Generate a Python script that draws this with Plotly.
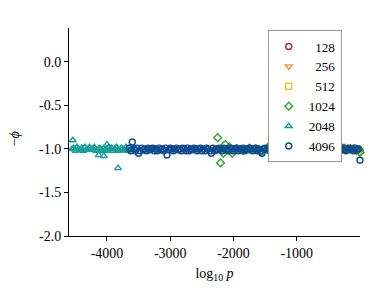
import plotly.graph_objects as go

# ---- data ----
sizes = ["128", "256", "512", "1024", "2048", "4096"]

x128 = [-390, -375, -360, -345, -330, -300, -250, -200, -150, -100, -50, 0]
y128 = [-0.95, -0.93, -1.05, -0.94, -0.96, -1.00, -0.99, -1.01, -1.00, -0.99, -1.01, -1.02]

x256 = [-940, -900, -860, -820, -780, -730, -680, -600, -500, -400, -300, -200, -100, 0]
y256 = [-0.93, -0.99, -1.05, -1.00, -1.10, -1.08, -1.00, -0.99, -1.01, -1.00, -0.99, -1.01, -1.00, -1.04]

x512 = [-1480, -1420, -1380, -1340, -1300, -1260, -1220, -1150, -1050, -950,
        -850, -750, -650, -550, -450, -350, -250, -150, -50, 0]
y512 = [-1.00, -0.97, -0.95, -0.96, -0.95, -0.96, -1.03, -1.00, -0.99, -1.01,
        -1.00, -0.98, -1.00, -1.01, -0.99, -1.00, -1.01, -0.99, -1.00, -1.02]

x1024 = [-2250, -2205, -2160, -2130, -2100, -2060, -2020, -1950, -1850, -1750,
         -1650, -1550, -1450, -1350, -1250, -1150, -1050, -950, -850, -750,
         -650, -550, -450, -350, -250, -150, -50, 0]
y1024 = [-0.87, -1.16, -1.05, -0.95, -1.00, -0.98, -1.05, -1.00, -1.02, -0.99,
         -1.00, -1.03, -0.98, -1.00, -1.01, -0.99, -1.00, -1.02, -0.99, -1.00,
         -1.01, -0.98, -1.00, -1.01, -0.99, -1.00, -1.02, -1.04]

x2048 = [-4550, -4525, -4500, -4475, -4450, -4425, -4400, -4375, -4350, -4325,
         -4300, -4275, -4250, -4225, -4200, -4175, -4150, -4125, -4100, -4075,
         -4050, -4025, -4000, -3975, -3950, -3925, -3900, -3875, -3850, -3825,
         -3800, -3775, -3750, -3725, -3700, -3675, -3650, -3625, -3600,
         -4540, -4130, -4050, -4000, -3825,
         -3000, -2000, -1000, 0]
y2048 = [-1.00, -0.99, -1.02, -0.98, -1.00, -1.01, -0.99, -1.02, -0.98, -1.01,
         -1.00, -0.98, -1.01, -1.00, -0.98, -1.02, -1.01, -0.99, -1.00, -1.02,
         -0.99, -1.01, -1.02, -0.98, -1.00, -0.99, -1.02, -1.00, -0.98, -1.01,
         -1.02, -0.99, -1.00, -1.01, -0.98, -1.02, -0.99, -1.01, -1.00,
         -0.90, -1.07, -1.08, -0.95, -1.22,
         -1.00, -1.00, -1.00, -1.00]

x4096 = [-3650, -3625, -3600, -3575, -3550, -3525, -3500, -3475, -3450, -3425,
         -3400, -3375, -3350, -3325, -3300, -3275, -3250, -3225, -3200, -3175,
         -3150, -3125, -3100, -3075, -3050, -3025, -3000, -2975, -2950, -2925,
         -2900, -2875, -2850, -2825, -2800, -2775, -2750, -2725, -2700, -2675,
         -2650, -2625, -2600, -2575, -2550, -2525, -2500, -2475, -2450, -2425,
         -2400, -2375, -2350, -2325, -2300, -2275, -2250, -2225, -2200, -2175,
         -2150, -2125, -2100, -2075, -2050, -2025, -2000, -1975, -1950, -1925,
         -1900, -1875, -1850, -1825, -1800, -1775, -1750, -1725, -1700, -1675,
         -1650, -1625, -1600, -1575, -1550, -1525, -1500, -1475, -1450, -1425,
         -1400, -1375, -1350, -1325, -1300, -1275, -1250, -1225, -1200, -1175,
         -1150, -1125, -1100, -1075, -1050, -1025, -1000, -975, -950, -925,
         -900, -875, -850, -825, -800, -775, -750, -725, -700, -675,
         -650, -625, -600, -575, -550, -525, -500, -475, -450, -425,
         -400, -375, -350, -325, -300, -275, -250, -225, -200, -175,
         -150, -125, -100, -75, -50, -25, 0]
y4096 = [-0.99, -1.02, -0.92, -1.00, -1.02, -0.99, -1.05, -1.02, -0.99, -1.01,
         -1.00, -1.02, -0.99, -1.01, -1.00, -0.99, -1.02, -1.00, -1.02, -0.99,
         -1.01, -1.00, -1.02, -0.99, -1.07, -1.01, -0.99, -1.00, -1.02, -1.00,
         -0.99, -1.01, -1.00, -1.02, -0.99, -1.00, -1.02, -0.99, -1.02, -1.00,
         -1.01, -0.99, -1.00, -1.02, -1.00, -0.99, -1.02, -1.00, -1.02, -0.99,
         -1.00, -1.02, -1.05, -0.99, -1.02, -1.00, -1.01, -0.99, -1.00, -1.02,
         -0.99, -1.01, -1.00, -1.02, -0.99, -1.00, -1.02, -1.00, -0.99, -1.02,
         -1.00, -1.01, -0.99, -1.02, -1.00, -1.01, -0.99, -1.00, -1.02, -1.00,
         -0.99, -1.02, -1.00, -1.02, -1.05, -1.00, -0.99, -1.01, -1.00, -1.02,
         -0.99, -1.00, -1.01, -1.02, -1.00, -0.99, -1.02, -1.00, -1.02, -0.99,
         -1.00, -1.01, -0.99, -1.02, -1.00, -1.01, -0.99, -1.00, -1.02, -1.01,
         -0.99, -1.00, -1.02, -1.01, -0.99, -1.00, -1.02, -1.02, -1.00, -0.99,
         -1.01, -1.00, -1.02, -0.99, -1.00, -1.02, -0.99, -1.02, -1.00, -1.01,
         -0.99, -1.00, -1.02, -1.01, -1.00, -0.99, -1.01, -1.02, -1.00, -0.99,
         -1.01, -1.00, -1.02, -0.99, -1.01, -1.00, -1.13]

xtick_vals = [-4000, -3000, -2000, -1000]
xtick_text = ["-4000", "-3000", "-2000", "-1000"]
ytick_vals = [0.0, -0.5, -1.0, -1.5, -2.0]
ytick_text = ["0.0", "-0.5", "-1.0", "-1.5", "-2.0"]
x_title = "log<sub>10</sub> <i>p</i>"
y_title = "\u2212<i>\u03d5</i>"

# ---- styling ----
xs = [x128, x256, x512, x1024, x2048, x4096]
ys = [y128, y256, y512, y1024, y2048, y4096]
colors = ["#b2202a", "#f58c2e", "#d6d21e", "#2fa82a", "#17a09a", "#0d4b90"]
symbols = ["circle-open", "triangle-down-open", "square-open",
           "diamond-open", "triangle-up-open", "circle-open"]
FONT = "Liberation Serif"

fig = go.Figure()
for name, xv, yv, c, s in zip(sizes, xs, ys, colors, symbols):
    label = ("\u2007" * (4 - len(name))) + name
    fig.add_trace(go.Scatter(
        x=xv, y=yv, mode="markers", name=label, cliponaxis=False,
        marker=dict(symbol=s, size=6, color=c, line=dict(width=1.4, color=c)),
    ))

# y-axis title placed as a rotated annotation so it can sit near the page edge
fig.add_annotation(text=y_title, xref="paper", yref="paper",
                   x=-0.186, y=0.469, xanchor="center", yanchor="middle",
                   textangle=-90, showarrow=False,
                   font=dict(family=FONT, size=14, color="black"))

# page body has an 8px margin, so the figure is offset by 8px right/down
fig.update_layout(
    width=374, height=290,
    margin=dict(l=61, r=22, t=20, b=62),
    paper_bgcolor="white", plot_bgcolor="white",
    font=dict(family=FONT, size=14, color="black"),
    showlegend=True,
    legend=dict(x=0.683, y=0.988, xanchor="left", yanchor="top",
                bgcolor="white", bordercolor="#999999", borderwidth=1,
                font=dict(family=FONT, size=13), tracegroupgap=0,
                itemwidth=30),
    xaxis=dict(range=[-4600, 0], showgrid=False, zeroline=False,
               showline=True, linecolor="black", linewidth=1,
               ticks="outside", ticklen=4, tickcolor="black",
               tickvals=xtick_vals, ticktext=xtick_text,
               title=dict(text=x_title, standoff=8,
                          font=dict(family=FONT, size=14))),
    yaxis=dict(range=[-2.0, 0.39], showgrid=False, zeroline=False,
               showline=True, linecolor="black", linewidth=1,
               ticks="outside", ticklen=4, tickcolor="black",
               tickvals=ytick_vals, ticktext=ytick_text),
)

fig.write_html("out.html")
